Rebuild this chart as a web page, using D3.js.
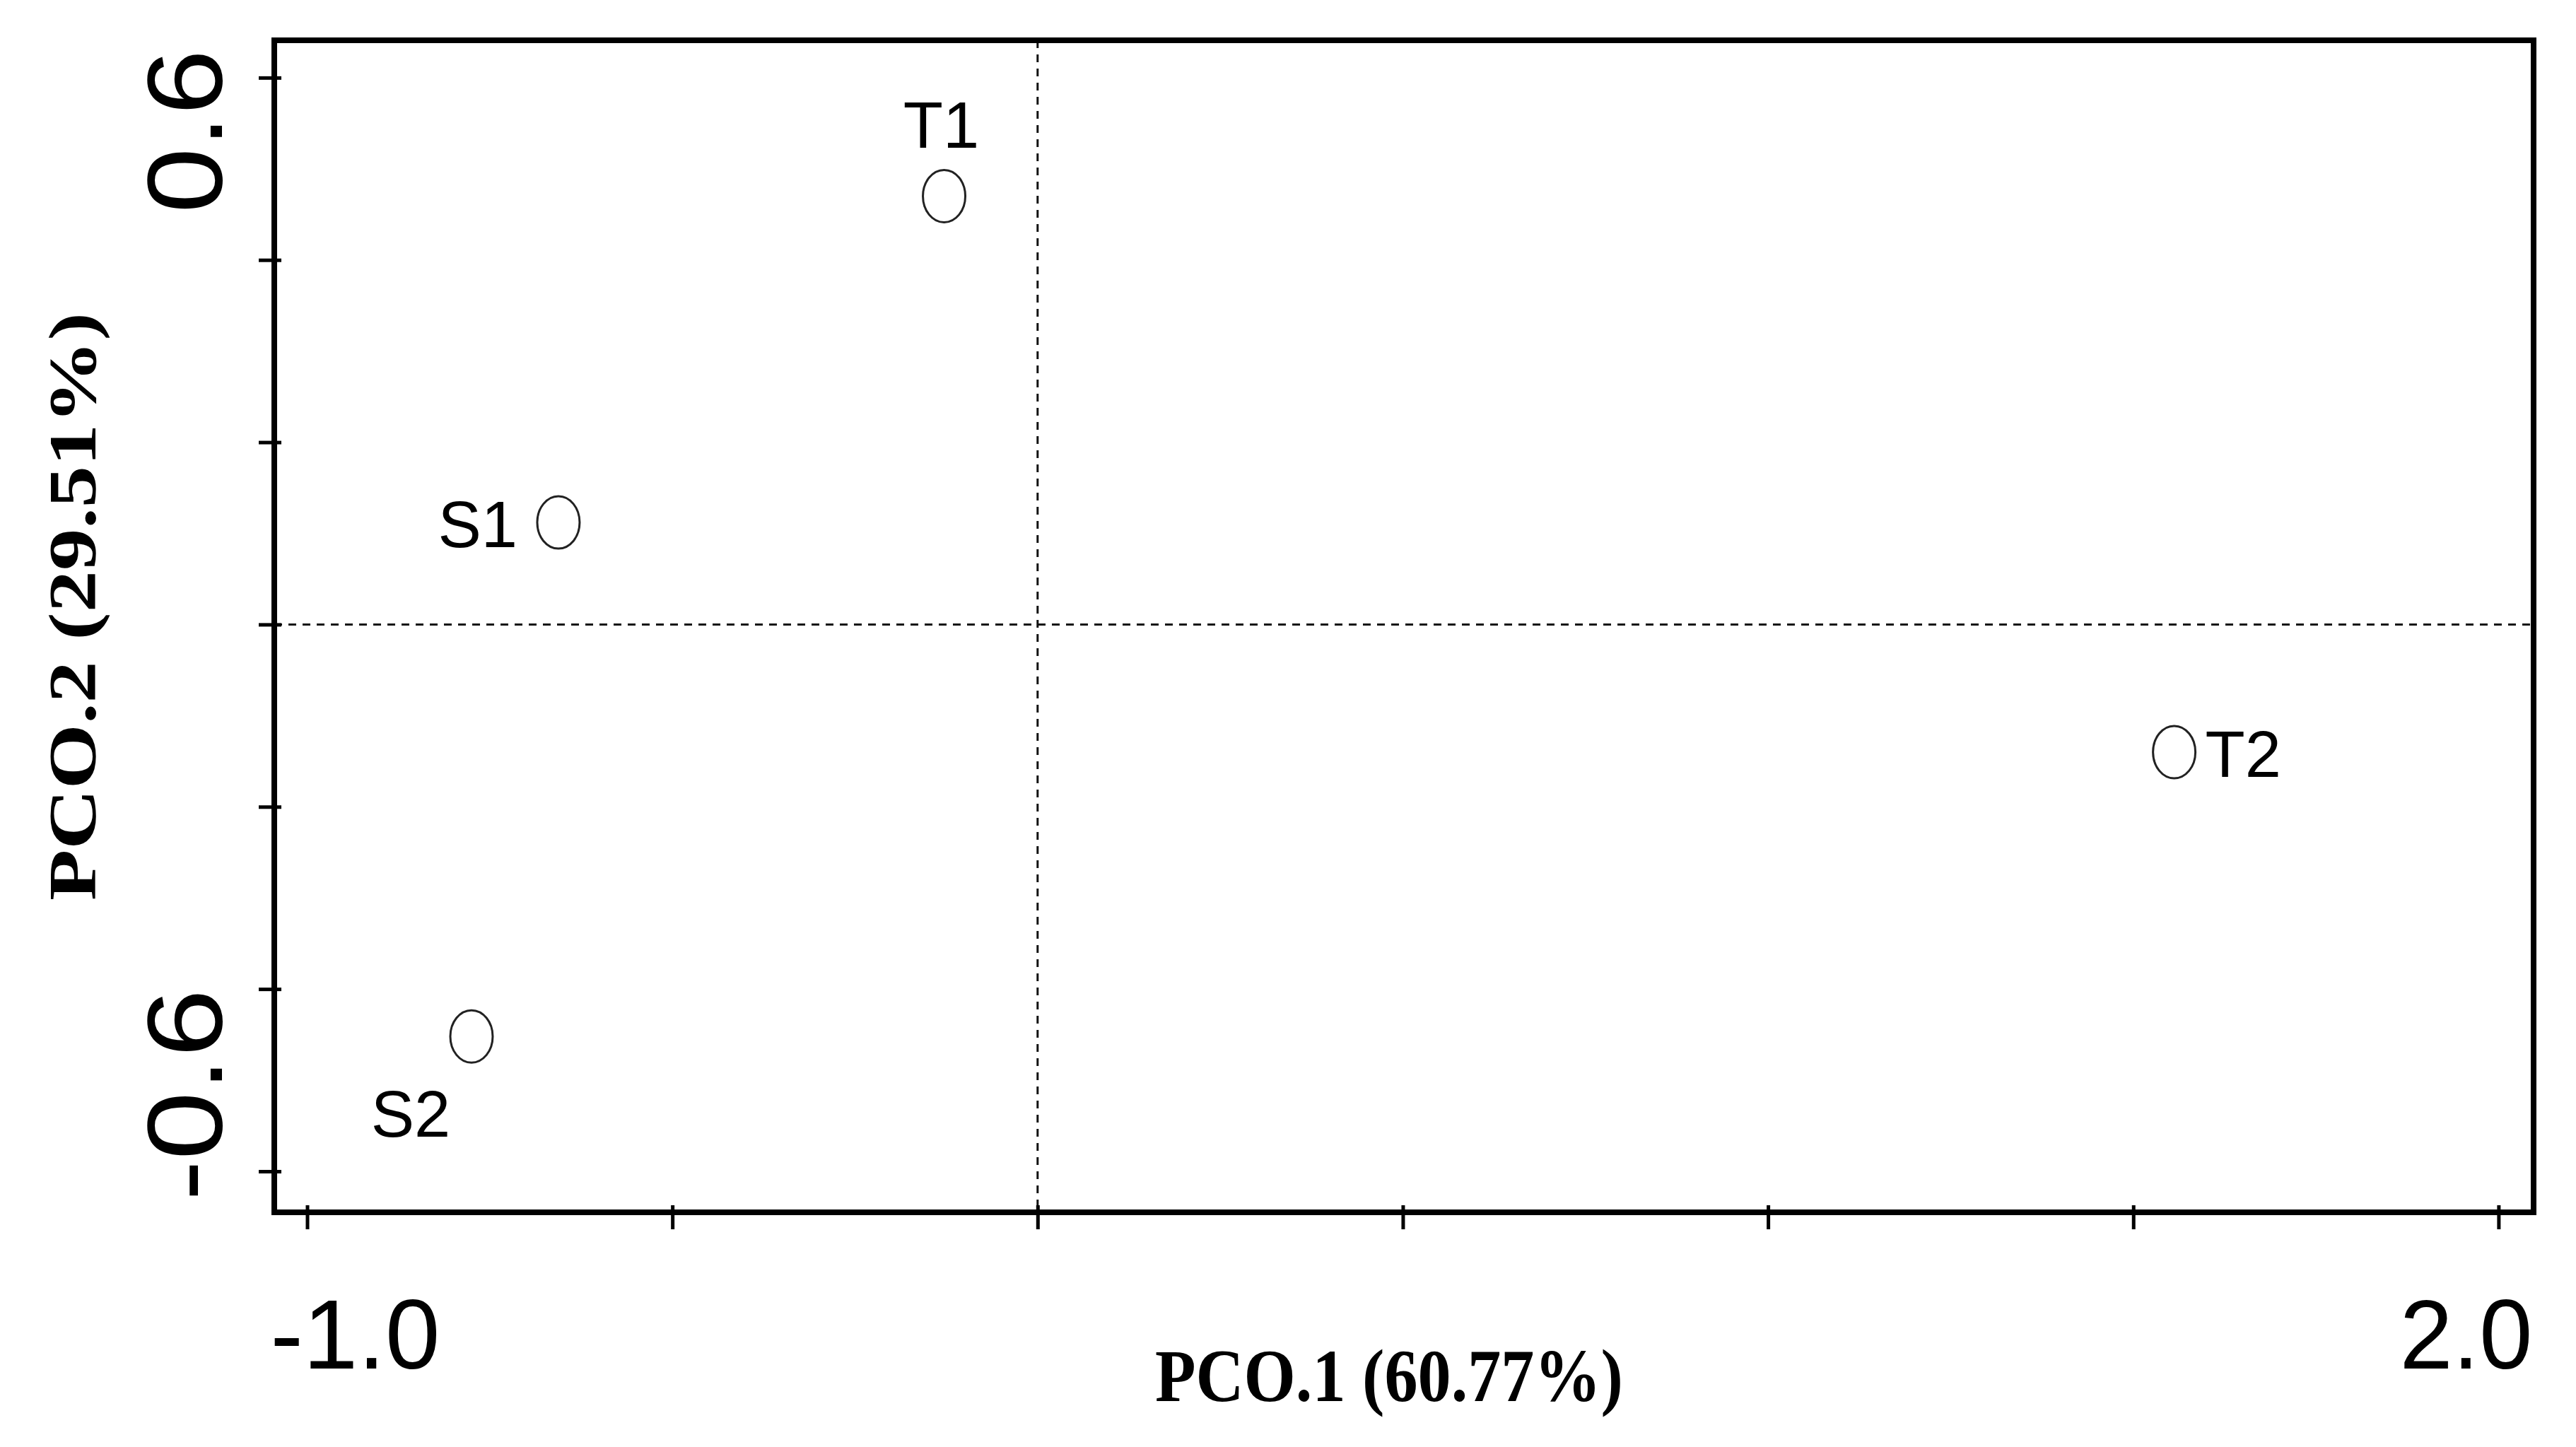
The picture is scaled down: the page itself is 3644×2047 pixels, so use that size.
<!DOCTYPE html>
<html>
<head>
<meta charset="utf-8">
<script src="https://cdn.jsdelivr.net/npm/d3@7"></script>
<style>
  html, body { margin: 0; padding: 0; background: #fff; }
  svg { display: block; }
</style>
</head>
<body>
<svg id="chart"></svg>
<script>
// sample scores on the first two principal coordinates
const samples = ['T1', 'S1', 'T2', 'S2'];
const pco1 = [-0.128, -0.656, 1.556, -0.775];
const pco2 = [0.470, 0.112, -0.140, -0.452];

const xTicks = [-1.0, -0.5, 0, 0.5, 1.0, 1.5, 2.0];
const yTicks = [-0.6, -0.4, -0.2, 0, 0.2, 0.4, 0.6];
const xTickLabels = ['-1.0', '2.0'];
const yTickLabels = ['0.6', '-0.6'];
const xTitle = 'PCO.1 (60.77%)';
const yTitle = 'PCO.2 (29.51%)';

const width = 3644, height = 2047;
const margin = { top: 57, right: 60, bottom: 332, left: 388 };

const svg = d3.select('#chart')
  .attr('width', width)
  .attr('height', height);

const x = d3.scaleLinear()
  .domain([-1.045, 2.048])
  .range([margin.left, width - margin.right]);

const y = d3.scaleLinear()
  .domain([-0.645, 0.641])
  .range([height - margin.bottom, margin.top]);

/** zero reference lines */
svg.append('line')
  .attr('x1', x(0)).attr('x2', x(0))
  .attr('y1', y.range()[1]).attr('y2', y.range()[0])
  .attr('stroke', '#111').attr('stroke-width', 3)
  .attr('stroke-dasharray', '11,9');

svg.append('line')
  .attr('x1', x.range()[0]).attr('x2', x.range()[1])
  .attr('y1', y(0)).attr('y2', y(0))
  .attr('stroke', '#111').attr('stroke-width', 3)
  .attr('stroke-dasharray', '11,9');

/** tick marks (labels drawn separately) */
const xAxis = svg.append('g')
  .attr('transform', `translate(0,${y.range()[0]})`)
  .call(d3.axisBottom(x).tickValues(xTicks).tickSize(24).tickFormat(''));
xAxis.select('.domain').remove();
xAxis.selectAll('.tick line')
  .attr('y1', -10)
  .attr('stroke', '#000').attr('stroke-width', 5);

const yAxis = svg.append('g')
  .attr('transform', `translate(${x.range()[0]},0)`)
  .call(d3.axisLeft(y).tickValues(yTicks).tickSize(22).tickFormat(''));
yAxis.select('.domain').remove();
yAxis.selectAll('.tick line')
  .attr('x1', 10)
  .attr('stroke', '#000').attr('stroke-width', 5);

/** plot frame */
svg.append('rect')
  .attr('x', x.range()[0])
  .attr('y', y.range()[1])
  .attr('width', x.range()[1] - x.range()[0])
  .attr('height', y.range()[0] - y.range()[1])
  .attr('fill', 'none')
  .attr('stroke', '#000')
  .attr('stroke-width', 8);

/** end tick labels */
const tickFont = '"Liberation Sans", Arial, sans-serif';

svg.append('text')
  .attr('x', x(-1.0) - 52).attr('y', 1936)
  .attr('text-anchor', 'start')
  .attr('font-family', tickFont).attr('font-size', 140)
  .attr('textLength', 240).attr('lengthAdjust', 'spacingAndGlyphs')
  .text(xTickLabels[0]);

svg.append('text')
  .attr('x', x(2.0) + 48).attr('y', 1936)
  .attr('text-anchor', 'end')
  .attr('font-family', tickFont).attr('font-size', 140)
  .attr('textLength', 188).attr('lengthAdjust', 'spacingAndGlyphs')
  .text(xTickLabels[1]);

svg.append('text')
  .attr('transform', `translate(314,${y(0.6) - 40}) rotate(-90)`)
  .attr('text-anchor', 'end')
  .attr('font-family', tickFont).attr('font-size', 150)
  .attr('textLength', 232).attr('lengthAdjust', 'spacingAndGlyphs')
  .text(yTickLabels[0]);

svg.append('text')
  .attr('transform', `translate(314,${y(-0.6) + 42}) rotate(-90)`)
  .attr('text-anchor', 'start')
  .attr('font-family', tickFont).attr('font-size', 150)
  .attr('textLength', 300).attr('lengthAdjust', 'spacingAndGlyphs')
  .text(yTickLabels[1]);

/** axis titles */
const titleFont = '"Liberation Serif", "Times New Roman", serif';

svg.append('text')
  .attr('x', 1965).attr('y', 1982)
  .attr('text-anchor', 'middle')
  .attr('font-family', titleFont).attr('font-weight', 'bold').attr('font-size', 106)
  .attr('textLength', 662).attr('lengthAdjust', 'spacingAndGlyphs')
  .text(xTitle);

svg.append('text')
  .attr('transform', `translate(135,858) rotate(-90)`)
  .attr('text-anchor', 'middle')
  .attr('font-family', titleFont).attr('font-weight', 'bold').attr('font-size', 96)
  .attr('textLength', 832).attr('lengthAdjust', 'spacingAndGlyphs')
  .text(yTitle);

/** sample points */
const labelPos = {
  T1: { dx: -4, dy: -68, anchor: 'middle' },
  S1: { dx: -58, dy: 35, anchor: 'end' },
  T2: { dx: 44, dy: 35, anchor: 'start' },
  S2: { dx: -86, dy: 142, anchor: 'middle' }
};

const pts = svg.append('g')
  .selectAll('g')
  .data(samples.map((s, i) => ({ name: s, x: pco1[i], y: pco2[i] })))
  .join('g')
  .attr('transform', d => `translate(${x(d.x)},${y(d.y)})`);

pts.append('ellipse')
  .attr('rx', 30).attr('ry', 37)
  .attr('fill', 'none')
  .attr('stroke', '#222')
  .attr('stroke-width', 3);

pts.append('text')
  .attr('x', d => labelPos[d.name].dx)
  .attr('y', d => labelPos[d.name].dy)
  .attr('text-anchor', d => labelPos[d.name].anchor)
  .attr('font-family', tickFont)
  .attr('font-size', 92)
  .text(d => d.name);
</script>
</body>
</html>
